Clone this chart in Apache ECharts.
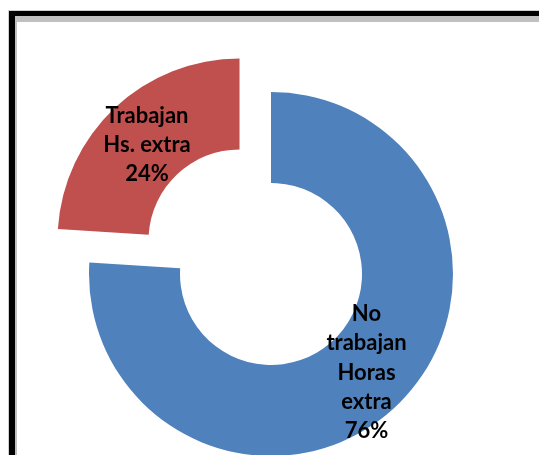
<!DOCTYPE html>
<html>
<head>
<meta charset="utf-8">
<script src="https://cdn.jsdelivr.net/npm/echarts@6/dist/echarts.min.js"></script>
<style>
html,body{margin:0;padding:0;background:#fff;}
#c{width:539px;height:455px;}
</style>
</head>
<body>
<div id="c"></div>
<script>
const categories = ['No\ntrabajan\nHoras\nextra', 'Trabajan\nHs. extra'];
const values = [76, 24];
const colors = ['#4F81BD', '#C0504D'];
const exploded = [false, true];

const labelShift = [[0, -3], [3, 6]];

const chart = echarts.init(document.getElementById('c'), null, {renderer: 'canvas'});
chart.setOption({
  animation: false,
  backgroundColor: '#ffffff',
  graphic: [
    {type: 'rect', z: 0, shape: {x: 8, y: 10, width: 540, height: 460}, style: {fill: '#d0d0d0'}},
    {type: 'rect', z: 0, shape: {x: 9, y: 11, width: 540, height: 460}, style: {fill: '#000000'}},
    {type: 'rect', z: 0, shape: {x: 15, y: 16, width: 540, height: 460}, style: {fill: '#c0c0c0'}},
    {type: 'rect', z: 0, shape: {x: 17, y: 22, width: 540, height: 460}, style: {fill: '#ffffff'}}
  ],
  series: [{
    type: 'pie',
    z: 5,
    center: [271, 274],
    radius: [91, 182],
    startAngle: 90,
    clockwise: true,
    selectedMode: 'multiple',
    selectedOffset: 46,
    avoidLabelOverlap: false,
    emphasis: {disabled: true},
    label: {
      show: true,
      position: 'inside',
      formatter: function (p) { return p.name + '\n' + p.value + '%'; },
      fontFamily: 'Lato',
      fontWeight: 'bold',
      fontSize: 22,
      lineHeight: 29.3,
      color: '#000000',
      align: 'center'
    },
    labelLine: {show: false},
    data: values.map((v, i) => ({
      name: categories[i],
      value: v,
      selected: exploded[i],
      itemStyle: {color: colors[i]},
      label: {offset: labelShift[i]},
      select: {itemStyle: {color: colors[i]}, label: {offset: labelShift[i]}}
    }))
  }]
});
</script>
</body>
</html>
